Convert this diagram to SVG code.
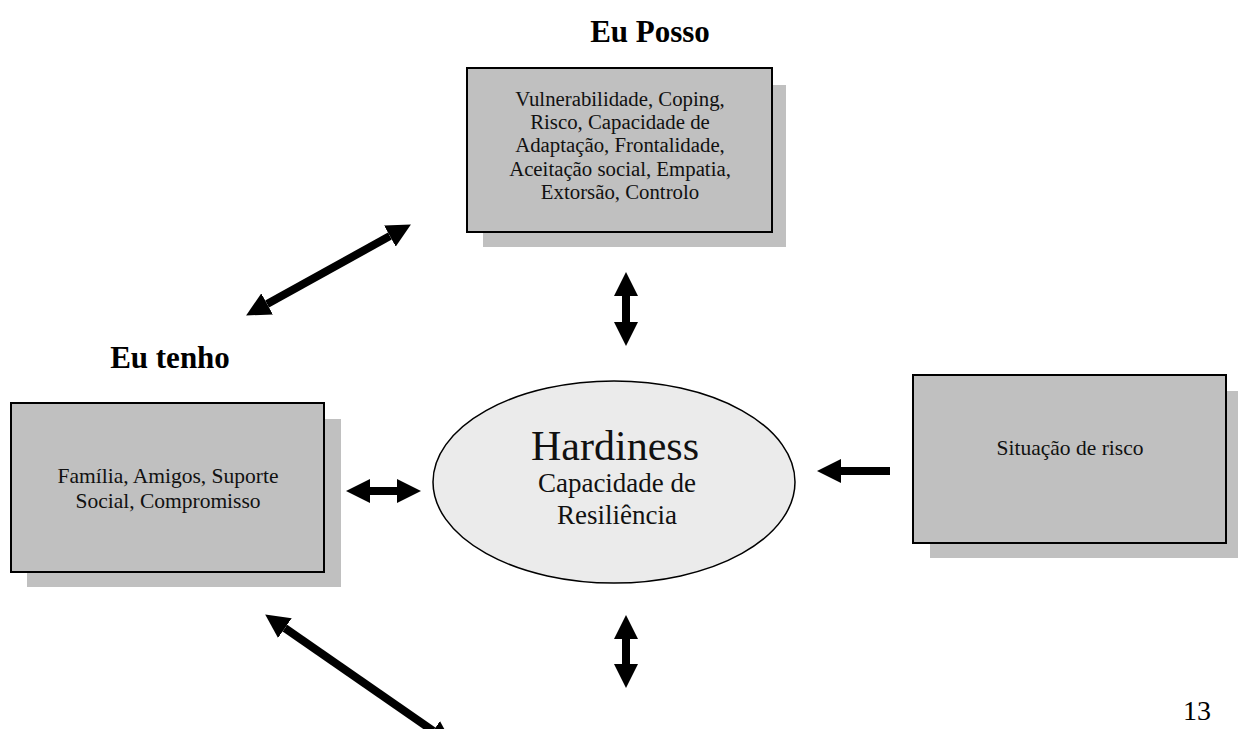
<svg xmlns="http://www.w3.org/2000/svg" width="1238" height="729" viewBox="0 0 1238 729">
<style>
.shadow{fill:#c0c0c0;stroke:none}
.box{fill:#c0c0c0;stroke:#000;stroke-width:2}
.t{font-family:"Liberation Serif","Times New Roman",serif;fill:#111;text-anchor:middle}
.h{font-family:"Liberation Serif","Times New Roman",serif;font-weight:bold;fill:#000;text-anchor:middle;font-size:31px}
.arr{stroke:#000;stroke-width:8;fill:none}
</style>
<defs>
<marker id="ah" markerUnits="userSpaceOnUse" markerWidth="24" markerHeight="24" refX="0" refY="12" orient="auto-start-reverse" viewBox="0 0 24 24">
<path d="M0,0 L24,12 L0,24 z" fill="#000"/>
</marker>
</defs>
<rect width="1238" height="729" fill="#fff"/>
<text class="h" x="650" y="42">Eu Posso</text>
<text class="h" x="170" y="368">Eu tenho</text>
<g id="node-posso">
<rect class="shadow" x="483" y="85" width="303" height="162"/>
<rect class="box" x="467" y="68" width="305" height="164"/>
<text class="t" font-size="20.8" x="620" y="106">Vulnerabilidade, Coping,</text>
<text class="t" font-size="20.8" x="620" y="129">Risco, Capacidade de</text>
<text class="t" font-size="20.8" x="620" y="152">Adaptação, Frontalidade,</text>
<text class="t" font-size="20.8" x="620" y="176">Aceitação social, Empatia,</text>
<text class="t" font-size="20.8" x="620" y="199">Extorsão, Controlo</text>
</g>
<g id="node-tenho">
<rect class="shadow" x="27" y="419" width="314" height="168"/>
<rect class="box" x="11" y="403" width="313" height="169"/>
<text class="t" font-size="21.5" x="168" y="483">Família, Amigos, Suporte</text>
<text class="t" font-size="21.5" x="168" y="508">Social, Compromisso</text>
</g>
<g id="node-risco">
<rect class="shadow" x="930" y="391" width="308" height="167"/>
<rect class="box" x="913" y="375" width="313" height="168"/>
<text class="t" font-size="21.5" x="1070" y="455">Situação de risco</text>
</g>
<g id="node-hardiness">
<ellipse cx="614" cy="482" rx="181" ry="101" fill="#ebebeb" stroke="#000" stroke-width="1.5"/>
<text class="t" font-size="42" x="615" y="460">Hardiness</text>
<text class="t" font-size="27" x="617" y="492">Capacidade de</text>
<text class="t" font-size="27" x="617" y="524">Resiliência</text>
</g>
<text font-family="Liberation Serif,'Times New Roman',serif" font-size="28" x="1183" y="720" fill="#000">13</text>
<g id="connectors">
<line class="arr" x1="626" y1="296" x2="626" y2="322" marker-start="url(#ah)" marker-end="url(#ah)"/>
<line class="arr" x1="626" y1="639" x2="626" y2="664" marker-start="url(#ah)" marker-end="url(#ah)"/>
<line class="arr" x1="370" y1="491" x2="397" y2="491" marker-start="url(#ah)" marker-end="url(#ah)"/>
<line class="arr" x1="890" y1="471" x2="841" y2="471" marker-end="url(#ah)"/>
<line class="arr" x1="267.1" y1="303.9" x2="389.9" y2="236.1" marker-start="url(#ah)" marker-end="url(#ah)"/>
<line class="arr" x1="284.9" y1="628.1" x2="433.1" y2="730.9" marker-start="url(#ah)" marker-end="url(#ah)"/>
</g>
</svg>
